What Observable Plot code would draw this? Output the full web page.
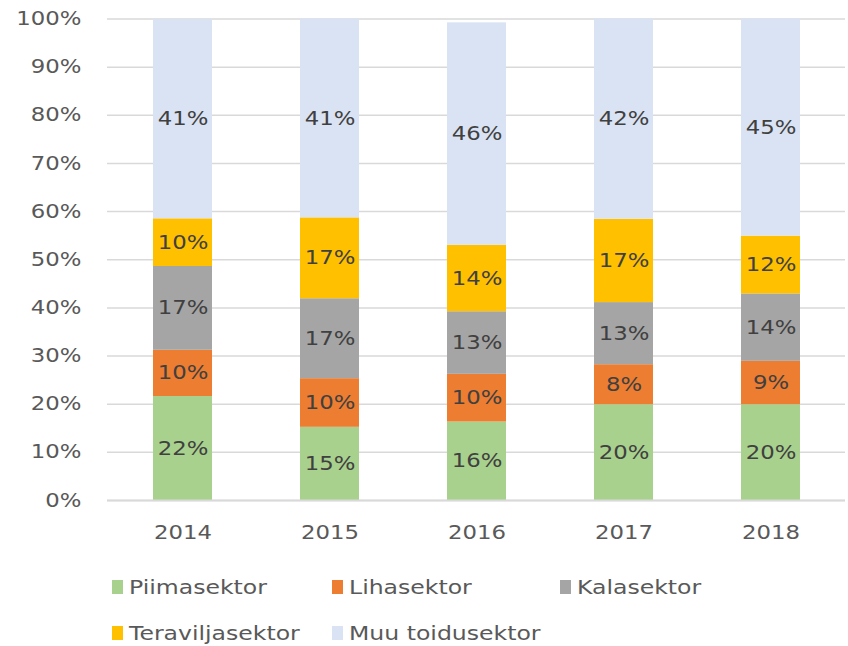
<!DOCTYPE html>
<html>
<head>
<meta charset="utf-8">
<script src="https://cdn.jsdelivr.net/npm/d3@7"></script>
<script src="https://cdn.jsdelivr.net/npm/@observablehq/plot@0.6"></script>
<style>
  html, body { margin: 0; padding: 0; background: #fff; }
  #wrap { width: 848px; font-family: "DejaVu Sans", sans-serif; }
  #legend { position: relative; height: 86px; color: #595959; font-size: 19px; }
  .item { position: absolute; display: flex; align-items: center; height: 24px; }
  .sw { width: 11px; height: 14px; margin-right: 6px; }
  .lab { display: inline-block; transform: scaleX(1.24); transform-origin: left center; white-space: nowrap; }
</style>
</head>
<body>
<div id="wrap"><div id="chart"></div><div id="legend"></div></div>
<script>
const years = ["2014", "2015", "2016", "2017", "2018"];
const sectors = ["Piimasektor", "Lihasektor", "Kalasektor", "Teraviljasektor", "Muu toidusektor"];
const colors = ["#a9d18e", "#ed7d31", "#a5a5a5", "#ffc000", "#dae3f3"];
const piimasektor = [21.6, 15.2, 16.3, 19.9, 19.9];
const lihasektor = [9.6, 10.1, 9.9, 8.3, 9.0];
const kalasektor = [17.4, 16.6, 13.0, 12.9, 14.0];
const teraviljasektor = [9.9, 16.8, 13.8, 17.3, 12.0];
const muuToidusektor = [41.4, 41.3, 46.2, 41.6, 45.1];
const yTicks = [0, 10, 20, 30, 40, 50, 60, 70, 80, 90, 100];

const series = [piimasektor, lihasektor, kalasektor, teraviljasektor, muuToidusektor];
const data = [];
sectors.forEach((s, i) => years.forEach((y, j) => data.push({year: y, sector: s, value: series[i][j]})));

const chart = Plot.plot({
  width: 848,
  height: 560,
  marginTop: 18.5,
  marginBottom: 60,
  marginLeft: 107,
  marginRight: 3,
  style: {fontFamily: "DejaVu Sans, sans-serif", fontSize: "19px", color: "#595959", background: "#fff"},
  x: {domain: years, paddingInner: 0.6, paddingOuter: 0.3, label: null},
  y: {domain: [0, 100], label: null},
  color: {domain: sectors, range: colors},
  marks: [
    Plot.gridY(yTicks, {stroke: "#d9d9d9", strokeOpacity: 1, strokeWidth: 1.5}),
    Plot.barY(data, {x: "year", y: "value", fill: "sector", z: "sector"}),
    Plot.text(data, Plot.stackY({x: "year", y: "value", z: "sector", text: d => Math.round(d.value) + "%", fill: "#404040", fontSize: 19})),
    Plot.ruleY([0], {stroke: "#d9d9d9", strokeWidth: 2}),
    Plot.axisY(yTicks, {tickSize: 0, tickPadding: 26, tickFormat: d => d + "%", fill: "#595959", fontSize: 19}),
    Plot.axisX({tickSize: 0, tickPadding: 25, fill: "#595959", fontSize: 19})
  ]
});
document.getElementById("chart").appendChild(chart);

// widen glyphs horizontally about each text's anchor point, to match the reference's stretched lettering
const SX = 1.2;
chart.querySelectorAll("text").forEach(t => {
  const b = t.getBBox();
  if (!b.width) return;
  const anchor = getComputedStyle(t).textAnchor;
  const ax = anchor === "middle" ? b.x + b.width / 2 : anchor === "end" ? b.x + b.width : b.x;
  const tr = t.getAttribute("transform") || "";
  t.setAttribute("transform", `${tr} translate(${ax},0) scale(${SX},1) translate(${-ax},0)`.trim());
});

const legend = document.getElementById("legend");
const cols = [112, 332, 560];
const rows = [15, 61];
sectors.forEach((s, i) => {
  const el = document.createElement("div");
  el.className = "item";
  el.style.left = cols[i % 3] + "px";
  el.style.top = rows[Math.floor(i / 3)] + "px";
  el.innerHTML = `<span class="sw" style="background:${colors[i]}"></span><span class="lab">${s}</span>`;
  legend.appendChild(el);
});
</script>
</body>
</html>
